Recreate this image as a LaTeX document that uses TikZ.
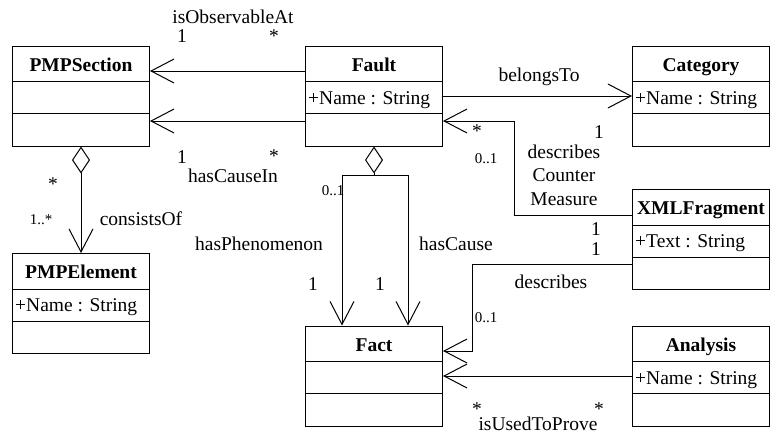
\documentclass[tikz,border=0pt]{standalone}
\usepackage{fontspec}
\setmainfont{Liberation Serif}
\newfontfamily\umlserif{Liberation Serif}
\usetikzlibrary{arrows.meta}
\newcommand{\diagfont}{\umlserif\fontsize{19.5}{23.5}\selectfont}
\tikzset{
  classbox/.style={draw, line width=1pt, minimum width=137pt, minimum height=100pt, inner sep=0pt},
  classtitle/.style={anchor=base, font=\diagfont\bfseries, inner sep=0pt},
  classattr/.style={anchor=base west, inner sep=3pt},
  assoc/.style={line width=1pt, -{Straight Barb[length=23pt, width=24pt]}},
  aggr/.style={line width=1pt, {Diamond[open, length=27pt, width=18pt]}-},
  aggrassoc/.style={line width=1pt, {Diamond[open, length=27pt, width=18pt]}-{Straight Barb[length=23pt, width=24pt]}},
  lbl/.style={anchor=base, inner sep=0pt},
  mult/.style={anchor=base, inner sep=0pt, font=\umlserif\fontsize{15}{18}\selectfont},
}
\newcommand{\umlclass}[4]{%
  \node[classbox] (#1) at (#2) {};
  \node[classtitle] (#1-name) at ([yshift=-25.5pt]#1.north) {#3};
  \node[classattr] (#1-attr) at ([yshift=-58.5pt]#1.north west) {#4};
  \draw[line width=1pt] ([yshift=-36pt]#1.north west) -- ([yshift=-36pt]#1.north east)
    ([yshift=-68pt]#1.north west) -- ([yshift=-68pt]#1.north east);
}
\begin{document}
\begin{tikzpicture}[x=1pt, y=-1pt, font=\diagfont]
  \useasboundingbox (0,0) rectangle (776,434);
  \umlclass{pmpsection}{81,96}{PMPSection}{}
  \umlclass{fault}{374,96}{Fault}{+Name : String}
  \umlclass{category}{701,96}{Category}{+Name : String}
  \umlclass{pmpelement}{81,303.5}{PMPElement}{+Name : String}
  \umlclass{xmlfragment}{701,239.5}{XMLFragment}{+Text : String}
  \umlclass{fact}{374,376}{Fact}{}
  \umlclass{analysis}{701,376}{Analysis}{+Name : String}
  \coordinate (fork) at ([yshift=-29pt]fault.south);
  \draw[assoc] ([yshift=25pt]fault.west) -- ([yshift=25pt]pmpsection.east);
  \draw[assoc] ([yshift=-25pt]fault.west) -- ([yshift=-25pt]pmpsection.east);
  \draw[assoc] (fault.east) -- (category.west);
  \draw[assoc] ([yshift=24pt]xmlfragment.west) -| ([xshift=71.5pt,yshift=-25pt]fault.east) -- ([yshift=-25pt]fault.east);
  \draw[assoc] ([yshift=-24.5pt]xmlfragment.west) -| ([xshift=29.5pt,yshift=25pt]fact.east) -- ([yshift=25pt]fact.east);
  \draw[assoc] (analysis.west) -- (fact.east);
  \draw[aggr] (fault.south) -- (fork);
  \draw[assoc] (fork) -| ([xshift=-32pt]fact.north);
  \draw[assoc] (fork) -| ([xshift=34pt]fact.north);
  \draw[aggrassoc] (pmpsection.south) -- (pmpelement.north);
  \node[lbl] (obs-name) at (233,23) {isObservableAt};
  \node[lbl] (obs-pmp) at (182,42) {1};
  \node[lbl] (obs-fault) at (274,42) {*};
  \node[lbl] (cause-pmp) at (182,163) {1};
  \node[lbl] (cause-fault) at (274,162) {*};
  \node[lbl] (cause-name) at (233,182) {hasCauseIn};
  \node[lbl] (belongs-name) at (539,81) {belongsTo};
  \node[lbl] (belongs-cat) at (599,138) {1};
  \node[lbl] (cm-fault) at (477,137) {*};
  \node[mult] (cm-fault-mult) at (486,163) {0..1};
  \node[align=center, inner sep=0pt] (cm-name) at (564,175) {describes\\Counter\\Measure};
  \node[lbl] (cm-xml) at (596,235) {1};
  \node[lbl] (desc-xml) at (596,255) {1};
  \node[lbl] (desc-name) at (551,288) {describes};
  \node[mult] (desc-fact) at (486,322) {0..1};
  \node[lbl] (prove-fact) at (477,415.5) {*};
  \node[lbl] (prove-ana) at (599,415.5) {*};
  \node[lbl] (prove-name) at (538,430.5) {isUsedToProve};
  \node[mult] (fork-mult) at (333,195) {0..1};
  \node[lbl] (phen-name) at (259,250) {hasPhenomenon};
  \node[lbl] (has-cause-name) at (456,250) {hasCause};
  \node[lbl] (phen-fact) at (313,290) {1};
  \node[lbl] (has-cause-fact) at (380,290) {1};
  \node[lbl] (cons-pmp) at (53,190) {*};
  \node[mult] (cons-el) at (41,224) {1..*};
  \node[lbl] (cons-name) at (141,225) {consistsOf};
\end{tikzpicture}
\end{document}
